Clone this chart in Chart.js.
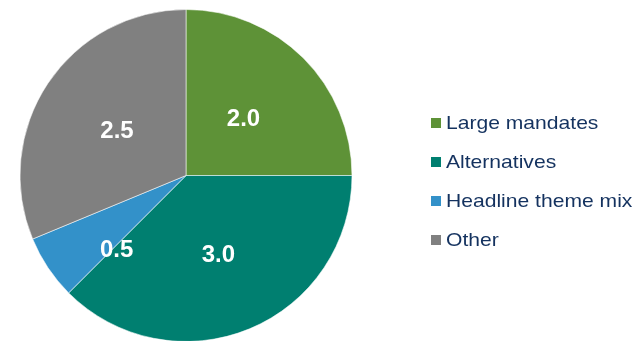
<!DOCTYPE html>
<html>
<head>
<meta charset="utf-8">
<script src="https://cdn.jsdelivr.net/npm/chart.js@4/dist/chart.umd.min.js"></script>
<style>
  html, body { margin: 0; padding: 0; background: #fff; overflow: hidden; }
  #wrap { position: relative; width: 638px; height: 341px; overflow: hidden; }
  #mixChart { position: absolute; left: 0; top: 0; }
  #legend { position: absolute; left: 431px; top: 0; font-family: "Liberation Sans", Arial, sans-serif; }
  .item { position: absolute; left: 0; white-space: nowrap; height: 22px; display: flex; align-items: center; }
  .box { width: 10px; height: 10px; margin-right: 5px; flex: none; }
  .txt { font-size: 18.5px; color: #14325f; line-height: 22px; display: inline-block;
         transform: scaleX(1.14); transform-origin: left center; }
</style>
</head>
<body>
<div id="wrap">
  <canvas id="mixChart" width="638" height="345"></canvas>
  <div id="legend"></div>
</div>
<script>
// segments, clockwise from 12 o'clock
const categories = ['Large mandates', 'Alternatives', 'Headline theme mix', 'Other'];
const values = [2.0, 3.0, 0.5, 2.5];
const colors = ['#5e9237', '#007f70', '#3391c9', '#808080'];

// where each value label sits: share of radius, and a small angle nudge (degrees)
const labelRadius = [0.49, 0.51, 0.61, 0.5];
const labelNudge = [0, 0, -13, 0];

// white bold numbers inside the slices
const sliceLabels = {
    id: 'sliceLabels',
    afterDatasetsDraw(chart) {
        const ctx = chart.ctx;
        const arcs = chart.getDatasetMeta(0).data;
        ctx.save();
        ctx.font = 'bold 24px "Liberation Sans", Arial, sans-serif';
        ctx.fillStyle = '#ffffff';
        ctx.textAlign = 'center';
        ctx.textBaseline = 'middle';
        arcs.forEach((arc, i) => {
            const p = arc.getProps(['x', 'y', 'startAngle', 'endAngle', 'outerRadius'], true);
            const a = (p.startAngle + p.endAngle) / 2 + labelNudge[i] * Math.PI / 180;
            const r = p.outerRadius * labelRadius[i];
            ctx.fillText(values[i].toFixed(1), p.x + Math.cos(a) * r, p.y + Math.sin(a) * r + 1.5);
        });
        ctx.restore();
    }
};

new Chart(document.getElementById('mixChart'), {
    type: 'pie',
    data: {
        labels: categories,
        datasets: [{
            data: values,
            backgroundColor: colors,
            borderColor: 'rgba(255,255,255,0.55)',
            borderWidth: 1
        }]
    },
    options: {
        responsive: false,
        animation: false,
        layout: { padding: { left: 19, top: 9, right: 285, bottom: 3 } },
        plugins: {
            legend: { display: false },
            tooltip: { enabled: false }
        }
    },
    plugins: [sliceLabels]
});

// legend on the right
const legend = document.getElementById('legend');
categories.forEach((name, i) => {
    const row = document.createElement('div');
    row.className = 'item';
    row.style.top = (123 + i * 39 - 11) + 'px';
    row.innerHTML = `<span class="box" style="background:${colors[i]}"></span><span class="txt">${name}</span>`;
    legend.appendChild(row);
});
</script>
</body>
</html>
